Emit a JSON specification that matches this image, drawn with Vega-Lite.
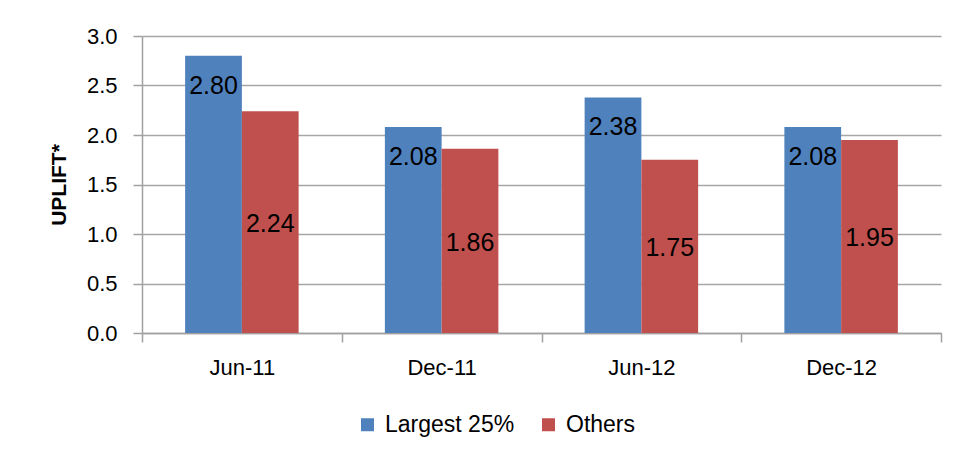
{
  "$schema": "https://vega.github.io/schema/vega-lite/v6.json",
  "autosize": "none",
  "width": 799,
  "height": 297,
  "padding": {"left": 142, "top": 36, "right": 20, "bottom": 129},
  "background": "white",
  "config": {
    "view": {"stroke": null},
    "font": "Liberation Sans",
    "axis": {"labelFont": "Liberation Sans", "titleFont": "Liberation Sans"}
  },
  "data": {
    "values": [
      {"period": "Jun-11", "series": "Largest 25%", "value": 2.80},
      {"period": "Jun-11", "series": "Others", "value": 2.24},
      {"period": "Dec-11", "series": "Largest 25%", "value": 2.08},
      {"period": "Dec-11", "series": "Others", "value": 1.86},
      {"period": "Jun-12", "series": "Largest 25%", "value": 2.38},
      {"period": "Jun-12", "series": "Others", "value": 1.75},
      {"period": "Dec-12", "series": "Largest 25%", "value": 2.08},
      {"period": "Dec-12", "series": "Others", "value": 1.95}
    ]
  },
  "encoding": {
    "x": {
      "field": "period",
      "type": "nominal",
      "sort": ["Jun-11", "Dec-11", "Jun-12", "Dec-12"],
      "scale": {"paddingInner": 0, "paddingOuter": 0},
      "axis": {
        "title": null,
        "labelAngle": 0,
        "labelFontSize": 22,
        "labelColor": "#000000",
        "labelPadding": 15,
        "tickBand": "extent",
        "tickSize": 9,
        "tickColor": "#a0a0a0",
        "domainColor": "#a0a0a0",
        "domainWidth": 1.5,
        "tickWidth": 1.5
      }
    },
    "xOffset": {
      "field": "series",
      "type": "nominal",
      "scale": {"domain": ["Largest 25%", "Others"], "paddingOuter": 0.76, "paddingInner": 0}
    }
  },
  "layer": [
    {
      "mark": {"type": "bar"},
      "encoding": {
        "y": {
          "field": "value",
          "type": "quantitative",
          "scale": {"domain": [0, 3], "nice": false, "zero": true},
          "axis": {
            "title": "UPLIFT*",
            "titleFontSize": 21,
            "titleFontWeight": "bold",
            "titleColor": "#000000",
            "titleX": -83,
            "titleY": 148.5,
            "titleAlign": "center",
            "titleBaseline": "middle",
            "titleAngle": -90,
            "values": [0, 0.5, 1, 1.5, 2, 2.5, 3],
            "format": ".1f",
            "labelFontSize": 22,
            "labelColor": "#000000",
            "labelPadding": 16,
            "tickSize": 9,
            "tickColor": "#a0a0a0",
            "tickWidth": 1.5,
            "domainColor": "#a0a0a0",
            "domainWidth": 1.5,
            "grid": true,
            "gridColor": "#a6a6a6",
            "gridWidth": 1.5
          }
        },
        "color": {
          "field": "series",
          "type": "nominal",
          "scale": {"domain": ["Largest 25%", "Others"], "range": ["#4F81BD", "#C0504D"]},
          "legend": {
            "title": null,
            "orient": "none",
            "direction": "horizontal",
            "legendX": 214,
            "legendY": 377,
            "symbolType": "square",
            "symbolSize": 169,
            "symbolStrokeWidth": 0,
            "labelFontSize": 23,
            "labelColor": "#000000",
            "labelFont": "Liberation Sans",
            "labelOffset": 6,
            "columnPadding": 22
          }
        }
      }
    },
    {
      "transform": [{"filter": "datum.series === 'Largest 25%'"}],
      "mark": {"type": "text", "baseline": "alphabetic", "align": "center", "dy": 38, "fontSize": 25, "color": "#000000"},
      "encoding": {
        "y": {"field": "value", "type": "quantitative", "scale": {"domain": [0, 3], "nice": false}, "axis": null},
        "text": {"field": "value", "type": "quantitative", "format": ".2f"}
      }
    },
    {
      "transform": [{"filter": "datum.series === 'Others'"}],
      "mark": {"type": "text", "baseline": "alphabetic", "align": "center", "dy": 10, "fontSize": 25, "color": "#000000"},
      "encoding": {
        "y": {"field": "value", "type": "quantitative", "scale": {"domain": [0, 6], "nice": false}, "axis": null},
        "text": {"field": "value", "type": "quantitative", "format": ".2f"}
      }
    }
  ],
  "resolve": {"scale": {"y": "independent"}}
}
